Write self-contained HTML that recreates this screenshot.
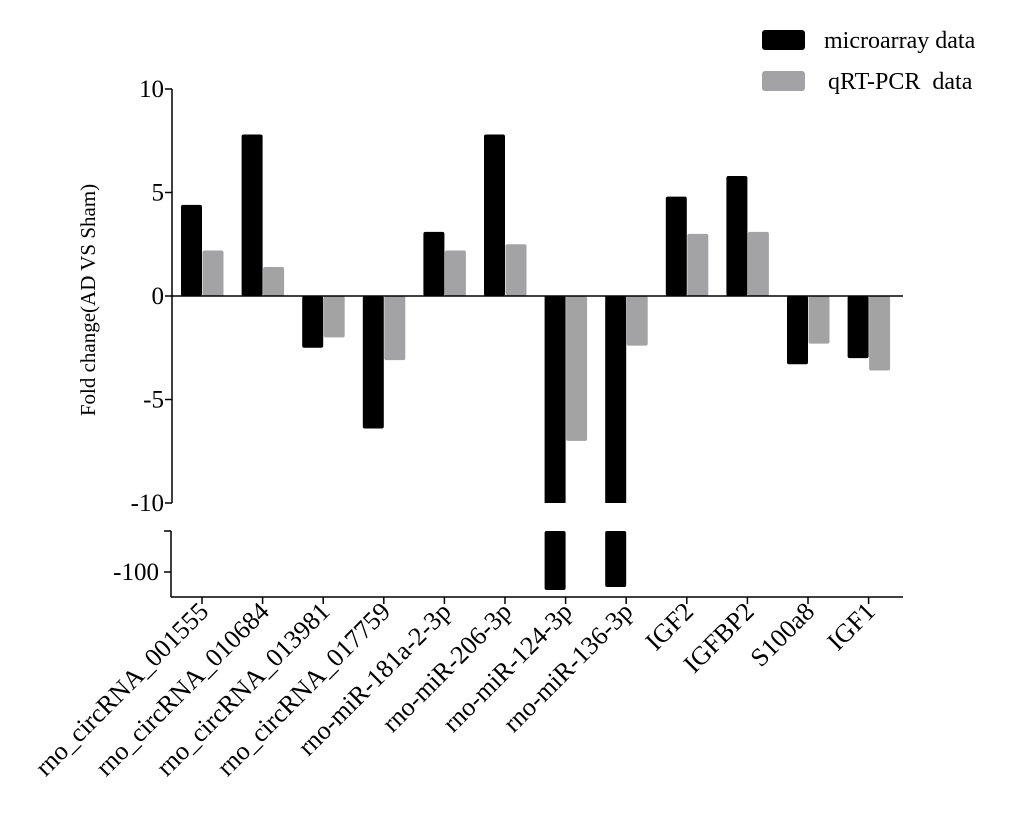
<!DOCTYPE html>
<html><head><meta charset="utf-8"><style>
body{margin:0;background:#fff}
svg{display:block;font-family:"Liberation Serif",serif}
</style></head><body>
<svg id="c" width="1020" height="826" xmlns="http://www.w3.org/2000/svg"></svg>
<script>
const categories=["rno_circRNA_001555","rno_circRNA_010684","rno_circRNA_013981","rno_circRNA_017759","rno-miR-181a-2-3p","rno-miR-206-3p","rno-miR-124-3p","rno-miR-136-3p","IGF2","IGFBP2","S100a8","IGF1"];
const microarray=[4.4,7.8,-2.5,-6.4,3.1,7.8,-113.8,-111.5,4.8,5.8,-3.3,-3.0];
const qpcr=[2.2,1.4,-2.0,-3.1,2.2,2.5,-7.0,-2.4,3.0,3.1,-2.3,-3.6];
const upperTicks=[10,5,0,-5,-10];
const upperTickLabels=["10","5","0","-5","-10"];
const lowerTicks=[-100];
const lowerTickLabels=["-100"];

const NS="http://www.w3.org/2000/svg";
const svg=document.getElementById('c');
function mk(t,a,p){const e=document.createElementNS(NS,t);for(const k in a)e.setAttribute(k,a[k]);(p||svg).appendChild(e);return e;}
const yUp=v=>296-v*20.7;
const yLow=v=>572+(-100-v)*1.3;
const xC=i=>202+i*60.6;
const UPMIN=-10, LOWTOP=531;

function bar(i,v,isBlack){
  const x=isBlack?xC(i)-21:xC(i)+0.5;
  const w=isBlack?21:21;
  const fill=isBlack?"#000":"#a3a3a6";
  if(v>=UPMIN){
    const y0=yUp(0),y1=yUp(v);
    const r=mk('rect',{x:x,y:Math.min(y0,y1),width:w,height:Math.abs(y1-y0),fill:fill,rx:2});
    
    
  } else {
    const r=mk('rect',{x:x,y:yUp(0),width:w,height:yUp(UPMIN)-yUp(0),fill:fill});
    
    
    const r2=mk('rect',{x:x,y:LOWTOP,width:w,height:yLow(v)-LOWTOP,fill:fill,rx:2});
    
    
  }
}
categories.forEach((c,i)=>{bar(i,microarray[i],true);bar(i,qpcr[i],false);});

const zl=mk('line',{x1:172,x2:903,y1:yUp(0),y2:yUp(0),stroke:"#000","stroke-width":1.5});


const ya=mk('line',{x1:172,x2:172,y1:yUp(10),y2:yUp(-10),stroke:"#000","stroke-width":1.5});


upperTicks.forEach((t,k)=>{
  mk('line',{x1:165,x2:172,y1:yUp(t),y2:yUp(t),stroke:"#000","stroke-width":1.5});
  const tx=mk('text',{x:164,y:yUp(t)+8,"text-anchor":"end","font-size":25});
  tx.textContent=upperTickLabels[k];
  
  
});
const yb=mk('line',{x1:171,x2:171,y1:LOWTOP,y2:597,stroke:"#000","stroke-width":1.5});


mk('line',{x1:164,x2:171,y1:LOWTOP,y2:LOWTOP,stroke:"#000","stroke-width":1.5});
lowerTicks.forEach((t,k)=>{
  mk('line',{x1:164,x2:171,y1:yLow(t),y2:yLow(t),stroke:"#000","stroke-width":1.5});
  const tx=mk('text',{x:159,y:yLow(t)+8,"text-anchor":"end","font-size":25});
  tx.textContent=lowerTickLabels[k];
  
  
});
const xa=mk('line',{x1:171,x2:903,y1:597,y2:597,stroke:"#000","stroke-width":1.5});


categories.forEach((c,i)=>{
  mk('line',{x1:xC(i),x2:xC(i),y1:597,y2:604,stroke:"#000","stroke-width":1.5});
  const tx=mk('text',{x:xC(i)+8,y:613,"text-anchor":"end","font-size":26,transform:`rotate(-45 ${xC(i)+8} 613)`});
  tx.textContent=c;
  
  
});
const yt=mk('text',{x:0,y:0,"text-anchor":"middle","font-size":21,transform:"translate(95 300) rotate(-90)"});
yt.textContent="Fold change(AD VS Sham)";


const l1=mk('rect',{x:762,y:30,width:43,height:20,rx:3,fill:"#000"});


const t1=mk('text',{x:824,y:48,"font-size":24});
t1.textContent="microarray data";


const l2=mk('rect',{x:762,y:71,width:43,height:20,rx:3,fill:"#a3a3a6"});


const t2=mk('text',{x:822,y:89,"font-size":24,style:"white-space:pre"});
t2.textContent=" qRT-PCR  data";


</script>
</body></html>
